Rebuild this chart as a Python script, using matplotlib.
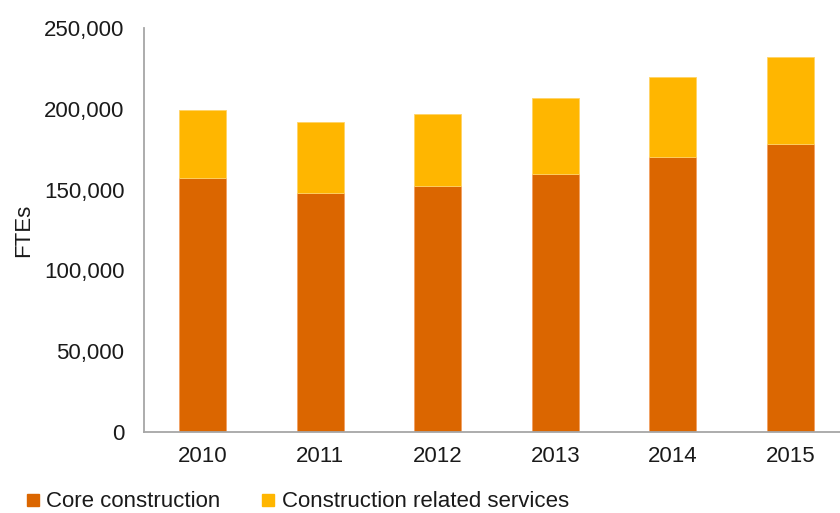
import matplotlib
matplotlib.use("Agg")
import matplotlib.pyplot as plt
from matplotlib.lines import Line2D
from matplotlib.ticker import FuncFormatter

years = ["2010", "2011", "2012", "2013", "2014", "2015"]
core_construction = [157400, 147900, 152200, 159900, 170200, 178200]
related_services = [41700, 43700, 44600, 46600, 49700, 53700]

core_color = "#DB6600"
services_color = "#FFB600"
axis_color = "#A6A6A6"
text_color = "#1a1a1a"

plt.rcParams["font.family"] = ["Liberation Sans", "DejaVu Sans"]

fig = plt.figure(figsize=(8.4, 5.13), dpi=100)
# axes box in figure fractions (right edge runs slightly past the canvas)
ax = fig.add_axes([144 / 840, 1 - 432 / 513, (849 - 144) / 840, (432 - 28) / 513])

x = range(len(years))
ax.bar(x, core_construction, width=0.4, color=core_color,
       edgecolor="#F2A062", linewidth=0.6, label="Core construction")
ax.bar(x, related_services, width=0.4, bottom=core_construction,
       color=services_color, edgecolor="#FFD366", linewidth=0.6,
       label="Construction related services")

ax.set_xlim(-0.5, 5.5)
ax.set_ylim(0, 250000)
ax.set_yticks(range(0, 250001, 50000))
ax.yaxis.set_major_formatter(FuncFormatter(lambda v, p: f"{int(v):,}"))
ax.set_xticks(list(x))
ax.set_xticklabels(years)

for side in ("top", "right"):
    ax.spines[side].set_visible(False)
for side in ("left", "bottom"):
    ax.spines[side].set_color(axis_color)
    ax.spines[side].set_linewidth(1.3)

ax.tick_params(axis="y", length=0, pad=14, labelsize=16, labelcolor=text_color)
ax.tick_params(axis="x", length=0, pad=10, labelsize=16, labelcolor=text_color)

ax.set_ylabel("FTEs", fontsize=16, color=text_color, labelpad=7.5)

handles = [
    Line2D([], [], marker="s", linestyle="none", markersize=8,
           markerfacecolor=core_color, markeredgecolor=core_color),
    Line2D([], [], marker="s", linestyle="none", markersize=8,
           markerfacecolor=services_color, markeredgecolor=services_color),
]
fig.legend(handles, ["Core construction", "Construction related services"],
           loc="center left", bbox_to_anchor=(24 / 840, 1 - 502 / 513),
           ncol=2, frameon=False, fontsize=16, handlelength=0.8,
           handletextpad=0.2, columnspacing=1.75, borderpad=0,
           borderaxespad=0, labelcolor=text_color)

fig.savefig("out.png", dpi=100)
